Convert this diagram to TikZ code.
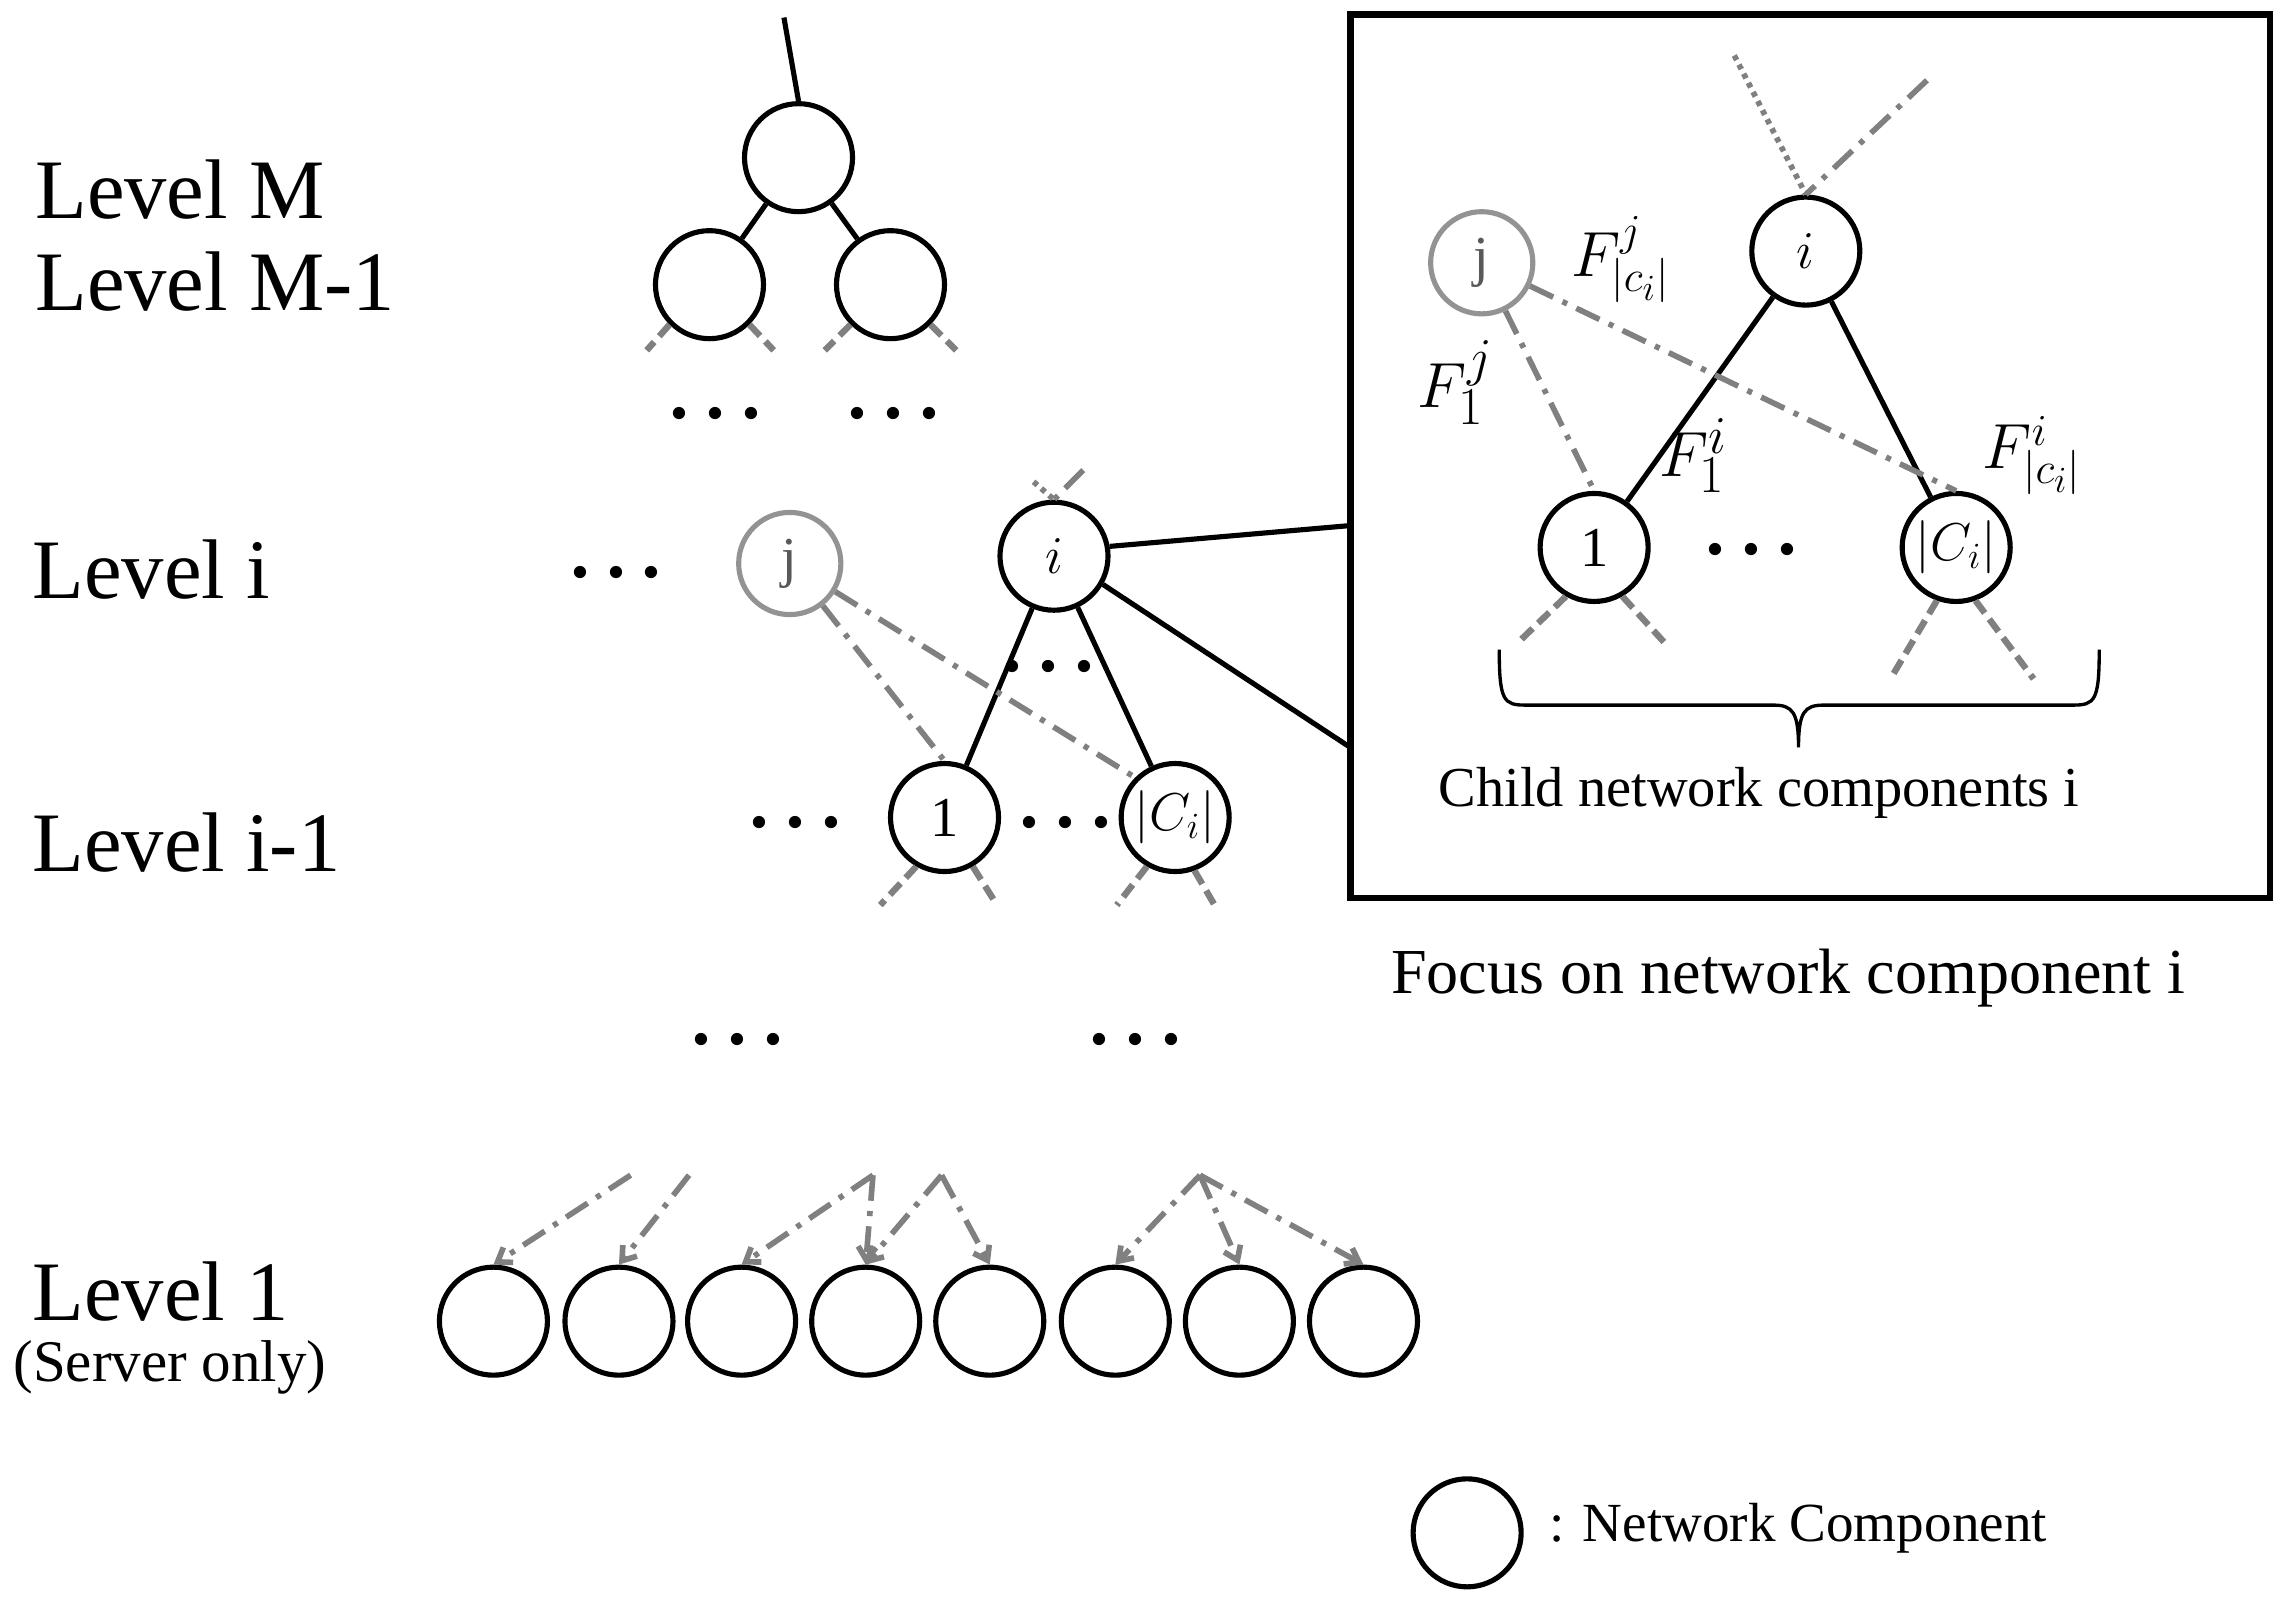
\documentclass[tikz,border=0pt]{standalone}
\usepackage{fontspec}
\setmainfont{Liberation Serif}
\usetikzlibrary{arrows.meta}
\newcommand{\bdots}{\textbullet\hspace{0.35em}\textbullet\hspace{0.35em}\textbullet}
\begin{document}
\begin{tikzpicture}[x=0.02cm,y=-0.02cm,
  nc/.style={circle,draw,line width=2pt,minimum size=74*0.02cm,inner sep=0pt,font=\fontsize{22}{24}\selectfont},
  gc/.style={nc,draw=gray!85,minimum size=70*0.02cm},
  sl/.style={line width=2pt},
  dd/.style={gray,line width=2.2pt,dash pattern=on 10pt off 4pt on 2pt off 4pt},
  ds/.style={gray,line width=2.5pt,dash pattern=on 6pt off 3pt},
  dt/.style={gray,line width=2.2pt,dash pattern=on 2pt off 2pt},
  lv/.style={anchor=west,font=\fontsize{33}{36}\selectfont},
  dots/.style={font=\fontsize{20}{20}\selectfont,inner sep=1pt},
  lab/.style={font=\fontsize{22}{24}\selectfont}]
\useasboundingbox (0,0) rectangle (1568,1100);
% labels
\node[lv] (lM) at (18,130) {Level M};
\node[lv] (lM1) at (18,193) {Level M-1};
\node[lv] (li) at (16,390) {Level i};
\node[lv] (li1) at (16,577) {Level i-1};
\node[lv] (l1) at (16,885) {Level 1};
\node[anchor=west,font=\fontsize{23}{24}\selectfont] (so) at (3,937) {(Server only)};
% top tree
\coordinate (top) at (537,12);
\node[nc] (r) at (547,108) {};
\node[nc] (a) at (486,195) {};
\node[nc] (b) at (610,195) {};
\draw[sl] (top) -- (r.north);
\draw[sl] (r) -- (a); \draw[sl] (r) -- (b);
\coordinate (a1) at (443,240); \coordinate (a2) at (530,240);
\coordinate (b1) at (565,240); \coordinate (b2) at (655,240);
\draw[ds] (a.225) -- (a1); \draw[ds] (a.315) -- (a2);
\draw[ds] (b.225) -- (b1); \draw[ds] (b.315) -- (b2);
\node[dots] (d1) at (490,287) {\bdots};
\node[dots] (d2) at (612,287) {\bdots};
% level i
\node[dots] (d3) at (422,396) {\bdots};
\node[gc,text=gray!70!black] (j) at (541,386) {j};
\node[nc] (i) at (722,381) {$i$};
\coordinate (it1) at (708,330); \coordinate (it2) at (742,322);
\draw[dt] (it1) -- (i.north); \draw[dd] (it2) -- (i.north);
\node[nc] (c1) at (647,560) {1};
\node[nc] (cc) at (805,560) {$|C_i|$};
\draw[sl] (i) -- (c1); \draw[sl] (i) -- (cc);
\draw[dd] (j) -- (c1.north); \draw[dd] (j) -- (cc.north west);
\node[dots] (d4) at (718,460) {\bdots};
\node[dots] (d5) at (545,567) {\bdots};
\node[dots] (d6) at (730,567) {\bdots};
\coordinate (s1) at (603,620); \coordinate (s2) at (683,620);
\coordinate (s3) at (765,620); \coordinate (s4) at (832,620);
\draw[ds] (c1.240) -- (s1); \draw[ds] (c1.300) -- (s2);
\draw[ds] (cc.240) -- (s3); \draw[ds] (cc.290) -- (s4);
\node[dots] (d7) at (505,716) {\bdots};
\node[dots] (d8) at (778,716) {\bdots};
% level 1
\foreach \k/\x in {1/338,2/424,3/508,4/593,5/678,6/764,7/849,8/934}
  \node[nc] (n\k) at (\x,905) {};
\coordinate (p1) at (432,805); \coordinate (p2) at (472,805);
\coordinate (p3) at (598,805); \coordinate (p4) at (645,805);
\coordinate (p5) at (822,805);
\begin{scope}[-{Straight Barb[length=5pt,width=7pt]}]
\draw[dd] (p1) -- (n1.north);
\draw[dd] (p2) -- (n2.north);
\draw[dd] (p3) -- (n3.north);
\draw[dd] (p3) -- (n4.north);
\draw[dd] (p4) -- (n4.north);
\draw[dd] (p4) -- (n5.north);
\draw[dd] (p5) -- (n6.north);
\draw[dd] (p5) -- (n7.north);
\draw[dd] (p5) -- (n8.north);
\end{scope}
% inset box
\node[draw,line width=2.5pt,minimum width=630*0.02cm,minimum height=605*0.02cm,inner sep=0pt] (box) at (1240,312.5) {};
\coordinate (bx1) at (925,360); \coordinate (bx2) at (925,512);
\draw[sl] (i.10) -- (bx1); \draw[sl] (i.-30) -- (bx2);
\node[nc] (I) at (1237,172) {$i$};
\node[gc,text=gray!70!black] (J) at (1015,180) {j};
\node[nc] (C1) at (1092,375) {1};
\node[nc] (CC) at (1340,375) {$|C_i|$};
\coordinate (t1) at (1188,38); \coordinate (t2) at (1320,55);
\draw[dt] (t1) -- (I.north); \draw[dd] (t2) -- (I.north);
\draw[sl] (I) -- (C1); \draw[sl] (I) -- (CC);
\draw[dd] (J) -- (C1.north); \draw[dd] (J) -- (CC.north);
\node[font=\fontsize{27}{28}\selectfont] (f1) at (1110,178) {$F^{j}_{|c_i|}$};
\node[font=\fontsize{30}{32}\selectfont] (f2) at (997,262) {$F^{j}_{1}$};
\node[font=\fontsize{30}{32}\selectfont,inner sep=1pt] (f3) at (1160,312) {$F^{i}_{1}$};
\node[font=\fontsize{27}{28}\selectfont] (f4) at (1392,312) {$F^{i}_{|c_i|}$};
\node[dots] (d9) at (1200,380) {\bdots};
\coordinate (u1) at (1040,440); \coordinate (u2) at (1140,440);
\coordinate (u3) at (1295,465); \coordinate (u4) at (1393,465);
\draw[ds] (C1.240) -- (u1); \draw[ds] (C1.300) -- (u2);
\draw[ds] (CC.250) -- (u3); \draw[ds] (CC.290) -- (u4);
\coordinate (br1) at (1027,445); \coordinate (br2) at (1438,445);
\coordinate (brt) at (1232,512);
\draw[line width=1.3pt] (br1) .. controls (1027,480) and (1030,483) .. (1045,483)
  -- (1215,483) .. controls (1228,483) and (1232,488) .. (brt)
  .. controls (1232,488) and (1236,483) .. (1249,483)
  -- (1420,483) .. controls (1435,483) and (1438,480) .. (br2);
\node[lab] (cn) at (1205,543) {Child network components i};
\node[font=\fontsize{25}{27}\selectfont] (fo) at (1225,670) {Focus on network component i};
% legend
\node[nc] (lg) at (1005,1050) {};
\node[anchor=west,font=\fontsize{21.5}{23}\selectfont] (lgt) at (1055,1047) {: Network Component};
\end{tikzpicture}
\end{document}
